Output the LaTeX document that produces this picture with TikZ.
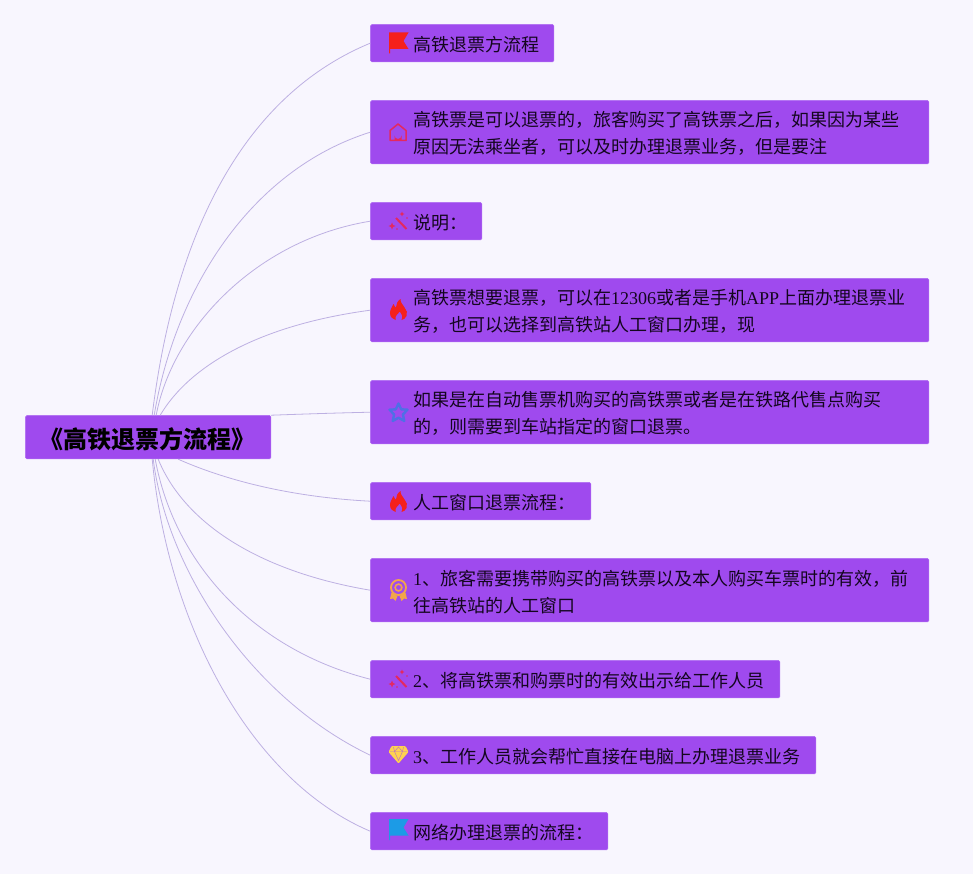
\documentclass[tikz,border=0pt]{standalone}
\usepackage{fontspec}
\setmainfont{Liberation Serif}
\newfontfamily\cjk{Noto Sans CJK SC}
\newcommand{\lt}[1]{{\rmfamily #1}}
\definecolor{pagebg}{HTML}{F8F6FE}
\definecolor{boxfill}{HTML}{9F4AEE}
\definecolor{boxedge}{HTML}{B06CF2}
\definecolor{wire}{HTML}{BDB0E2}
\definecolor{inktext}{HTML}{14061F}
\definecolor{flagred}{HTML}{F5201C}
\definecolor{rosered}{HTML}{E4295F}
\definecolor{starblue}{HTML}{4F6FE6}
\definecolor{medalor}{HTML}{F2A64A}
\definecolor{gemyel}{HTML}{FFD24F}
\definecolor{flagblue}{HTML}{1C9BE6}
\tikzset{
  topic/.style={draw=boxedge,line width=0.5pt,fill=boxfill,rounded corners=1.5pt,inner sep=0pt,anchor=north west},
  topictext/.style={anchor=west,inner sep=0pt,align=left,text=inktext,font=\cjk\fontsize{18}{27}\selectfont},
  wirelink/.style={draw=wire,line width=0.8pt},
}
\newcommand{\iconflag}[3]{\begin{scope}[shift={(#1,#2)}]
  \fill[#3] (-9.5,-10.5) -- (10,-10.5) -- (5,-2) -- (10,6) -- (-8.5,6) -- (-8.5,10.5) -- (-9.5,10.5) -- cycle;
\end{scope}}
\newcommand{\iconhouse}[2]{\begin{scope}[shift={(#1,#2)}]
  \draw[rosered,line width=1.5pt,line join=round] (-8,8.5) -- (-8,-1.5) -- (0,-8) -- (8,-1.5) -- (8,8.5) -- cycle;
  \fill[rosered] (-3.5,8.5) -- (-3.5,3.5) arc[start angle=180,end angle=0,radius=3.5] -- (3.5,8.5) -- cycle;
\end{scope}}
\newcommand{\iconwand}[2]{\begin{scope}[shift={(#1,#2)}]
  \draw[rosered,line width=2pt] (-3,-4) -- (7.5,7);
  \fill[rosered] (-7,0.5) -- (-6,3) -- (-3.5,4) -- (-6,5) -- (-7,7.5) -- (-8,5) -- (-10.5,4) -- (-8,3) -- cycle;
  \fill[rosered] (3,-10.5) -- (3.8,-8.8) -- (5.5,-8) -- (3.8,-7.2) -- (3,-5.5) -- (2.2,-7.2) -- (0.5,-8) -- (2.2,-8.8) -- cycle;
  \fill[rosered] (8,-4) circle (0.9); \fill[rosered] (-2,7) circle (0.8);
\end{scope}}
\newcommand{\iconfire}[2]{\begin{scope}[shift={(#1,#2)}]
  \fill[flagred] (2,-11) .. controls (2,-7) and (4,-6) .. (6,-2.5) .. controls (8,0) and (9.5,3) .. (8,6) .. controls (7,8.5) and (5,9.5) .. (3,10)
    .. controls (4.5,7) and (3.5,4) .. (1,1.5) .. controls (0.5,3.5) and (-4,5) .. (-3,10)
    .. controls (-6,9) and (-8.5,7) .. (-8.5,3) .. controls (-8.5,-1) and (-6,-3) .. (-5,-6)
    .. controls (-4,-4) and (-3.5,-3) .. (-2.5,-2.5) .. controls (-2.5,-6) and (-1,-9) .. (2,-11) -- cycle;
\end{scope}}
\newcommand{\iconstar}[2]{\begin{scope}[shift={(#1,#2)}]
  \draw[starblue,line width=2.4pt,line join=round] (0,-9) -- (2.7,-3.2) -- (9,-2.8) -- (4.4,2) -- (5.8,8.5) -- (0,5.2) -- (-5.8,8.5) -- (-4.4,2) -- (-9,-2.8) -- (-2.7,-3.2) -- cycle;
\end{scope}}
\newcommand{\iconmedal}[2]{\begin{scope}[shift={(#1,#2)}]
  \draw[medalor,line width=1.8pt] (0,-2.5) circle (7.5);
  \draw[medalor,line width=1.6pt] (0,-2.5) circle (3.4);
  \fill[medalor] (-7,2.5) -- (-8.5,9) -- (-5.5,8.5) -- (-3,11) -- (-1,6) -- cycle;
  \fill[medalor] (7,2.5) -- (8.5,9) -- (5.5,8.5) -- (3,11) -- (1,6) -- cycle;
\end{scope}}
\newcommand{\icongem}[2]{\begin{scope}[shift={(#1,#2)}]
  \fill[gemyel,rounded corners=1pt] (-7,-8.5) -- (7,-8.5) -- (10,-2.5) -- (0,9) -- (-10,-2.5) -- cycle;
  \draw[boxfill!70!gemyel,line width=0.45pt] (-8.5,-3) -- (8.5,-3) (-5,-7.5) -- (-4,-3) -- (0,6) -- (4,-3) -- (5,-7.5) (-4,-3) -- (0,-7.5) -- (4,-3);
\end{scope}}
\begin{document}
\begin{tikzpicture}[x=1pt,y=-1pt]
\useasboundingbox (0,0) rectangle (973,874);
\fill[pagebg] (0,0) rectangle (973,874);
% root
\node[topic,minimum width=245.5pt,minimum height=43.5pt] (root) at (25.2,415.2) {};
\node[anchor=center,inner sep=0pt,text=black,font=\cjk\bfseries\fontsize{24}{28}\selectfont] (roottext) at (147,439.5) {《高铁退票方流程》};
% topics
\node[topic,minimum width=183.5pt,minimum height=37.5pt] (b1) at (370.2,24.2) {};
\node[topic,minimum width=558.5pt,minimum height=63.5pt] (b2) at (370.2,100.2) {};
\node[topic,minimum width=111.5pt,minimum height=37.5pt] (b3) at (370.2,202.2) {};
\node[topic,minimum width=558.5pt,minimum height=63.5pt] (b4) at (370.2,278.2) {};
\node[topic,minimum width=558.5pt,minimum height=63.5pt] (b5) at (370.2,380.2) {};
\node[topic,minimum width=220.5pt,minimum height=37.5pt] (b6) at (370.2,482.2) {};
\node[topic,minimum width=558.5pt,minimum height=63.5pt] (b7) at (370.2,558.2) {};
\node[topic,minimum width=409.5pt,minimum height=37.5pt] (b8) at (370.2,660.2) {};
\node[topic,minimum width=445.5pt,minimum height=37.5pt] (b9) at (370.2,736.2) {};
\node[topic,minimum width=237.5pt,minimum height=37.5pt] (b10) at (370.2,812.2) {};
% connectors, root edge to the left side of each topic
\draw[wirelink] (root.north west)++(127,0) .. controls (175,230) and (245,95) .. (b1.west);
\draw[wirelink] (root.north west)++(129,0) .. controls (175,290) and (250,170) .. (b2.west);
\draw[wirelink] (root.north west)++(131,0) .. controls (172,330) and (255,240) .. (b3.west);
\draw[wirelink] (root.north west)++(135,0) .. controls (190,365) and (260,325) .. (b4.west);
\draw[wirelink] (root.north east) .. controls (305,414) and (335,413) .. (b5.west);
\draw[wirelink] (root.south west)++(153,0) .. controls (225,480) and (290,497) .. (b6.west);
\draw[wirelink] (root.south west)++(133,0) .. controls (185,525) and (262,572) .. (b7.west);
\draw[wirelink] (root.south west)++(130,0) .. controls (175,565) and (255,650) .. (b8.west);
\draw[wirelink] (root.south west)++(128,0) .. controls (168,575) and (255,700) .. (b9.west);
\draw[wirelink] (root.south west)++(127,0) .. controls (168,625) and (250,780) .. (b10.west);
% texts
\node[topictext] (t1) at (413,44.6) {高铁退票方流程};
\node[topictext] (t2) at (413,133.6) {高铁票是可以退票的，旅客购买了高铁票之后，如果因为某些\\原因无法乘坐者，可以及时办理退票业务，但是要注};
\node[topictext] (t3) at (413,222.6) {说明：};
\node[topictext] (t4) at (413,311.6) {高铁票想要退票，可以在\lt{12306}或者是手机\lt{APP}上面办理退票业\\务，也可以选择到高铁站人工窗口办理，现};
\node[topictext] (t5) at (413,413.6) {如果是在自动售票机购买的高铁票或者是在铁路代售点购买\\的，则需要到车站指定的窗口退票。};
\node[topictext] (t6) at (413,502.6) {人工窗口退票流程：};
\node[topictext] (t7) at (413,591.6) {\lt{1}、旅客需要携带购买的高铁票以及本人购买车票时的有效，前\\往高铁站的人工窗口};
\node[topictext] (t8) at (413,680.6) {\lt{2}、将高铁票和购票时的有效出示给工作人员};
\node[topictext] (t9) at (413,756.6) {\lt{3}、工作人员就会帮忙直接在电脑上办理退票业务};
\node[topictext] (t10) at (413,832.6) {网络办理退票的流程：};
% icons
\iconflag{398.5}{43}{flagred}
\iconhouse{398}{132}
\iconwand{399}{222}
\iconfire{398.5}{310}
\iconstar{398.5}{412.5}
\iconfire{398.5}{502}
\iconmedal{398.5}{590}
\iconwand{399}{680}
\icongem{398.5}{754.5}
\iconflag{398.5}{829.5}{flagblue}
\end{tikzpicture}
\end{document}
